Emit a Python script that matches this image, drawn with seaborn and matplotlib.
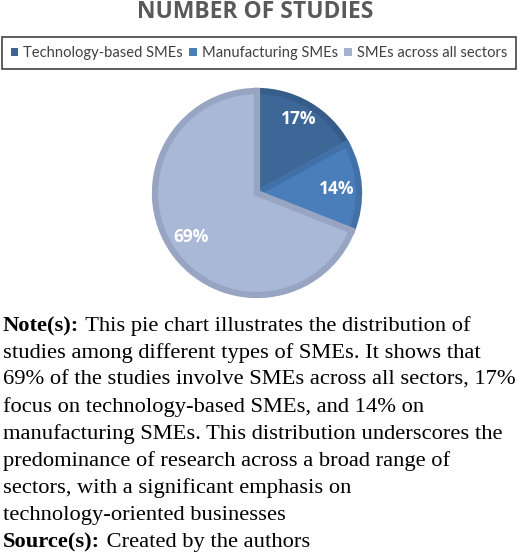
import numpy as np
import matplotlib
matplotlib.use("Agg")
import matplotlib.pyplot as plt
from matplotlib.patches import Patch
import seaborn as sns

# ---- data ----
categories = ["Technology-based SMEs", "Manufacturing SMEs", "SMEs across all sectors"]
shares = [17, 14, 69]
title = "NUMBER OF STUDIES"
note_lines = [
    ("Note(s):", " This pie chart illustrates the distribution of"),
    ("", "studies among different types of SMEs. It shows that"),
    ("", "69% of the studies involve SMEs across all sectors, 17%"),
    ("", "focus on technology-based SMEs, and 14% on"),
    ("", "manufacturing SMEs. This distribution underscores the"),
    ("", "predominance of research across a broad range of"),
    ("", "sectors, with a significant emphasis on"),
    ("", "technology-oriented businesses"),
    ("Source(s):", " Created by the authors"),
]

# ---- style ----
sns.set_theme(style="white")
plt.rcParams['font.family'] = ['Open Sans', 'DejaVu Sans']
fill_colors = sns.color_palette(["#3D6797", "#4A7EBB", "#A9B8D6"])
edge_colors = ["#365C89", "#4271A9", "#97A5C2"]
legend_colors = ["#3B6596", "#4A7EBB", "#A3B1CF"]

W, H = 520, 555
fig = plt.figure(figsize=(W / 100, H / 100), dpi=100)
fig.patch.set_facecolor("white")

def fx(px):
    return px / W

def fy(py):
    return 1 - py / H

# title
fig.text(fx(255), fy(18), title, ha="center", va="baseline", fontsize=16.5,
         fontweight="bold", color="#595959", family="Open Sans")

# pie
cx, cy, r = 257, 193, 102
ax = fig.add_axes([fx(cx - r), fy(cy + r), 2 * r / W, 2 * r / H])
wedges, _ = ax.pie(shares, colors=fill_colors, startangle=90, counterclock=False,
                   wedgeprops=dict(linewidth=4.5))
for w, ec in zip(wedges, edge_colors):
    w.set_edgecolor(ec)
    w.set_clip_on(False)
ax.set_xlim(-1, 1)
ax.set_ylim(-1, 1)
ax.set_aspect("auto")
ax.axis("off")

# data labels (Excel-like placement)
label_place = [(60.4, 0.835), (2.9, 0.785), (213.7, 0.78)]
for val, (ang, dist) in zip(shares, label_place):
    a = np.deg2rad(ang)
    ax.text(dist * np.cos(a), dist * np.sin(a), f"{val}%", ha="center", va="center",
            color="white", fontsize=12.5, fontweight="bold", family="Open Sans")

# legend
handles = [Patch(facecolor=c, edgecolor="none") for c in legend_colors]
leg = fig.legend(handles, categories, ncol=3, loc="lower left",
                 bbox_to_anchor=(fx(2), fy(69), (516 - 2) / W, 30 / H), mode="expand",
                 frameon=True, fancybox=False, handlelength=0.5, handleheight=0.5,
                 handletextpad=0.35, columnspacing=0.5, borderpad=0.6, borderaxespad=0,
                 prop=dict(family="Lato", size=10.6))
leg.get_frame().set_edgecolor("black")
leg.get_frame().set_linewidth(1.1)
for t in leg.get_texts():
    t.set_color("#404040")

# note text
renderer = fig.canvas.get_renderer()
base0, step = 331, 27.0
for i, (bold, rest) in enumerate(note_lines):
    y = fy(base0 + step * i)
    x = fx(3)
    if bold:
        tb = fig.text(x, y, bold, ha="left", va="baseline", fontsize=16.2,
                      fontweight="bold", family="Liberation Serif", color="black")
        bb = tb.get_window_extent(renderer)
        x = (bb.x1 + 1) / W
    fig.text(x, y, rest, ha="left", va="baseline", fontsize=16.2,
             family="Liberation Serif", color="black")

fig.savefig("out.png", dpi=100, facecolor="white")
